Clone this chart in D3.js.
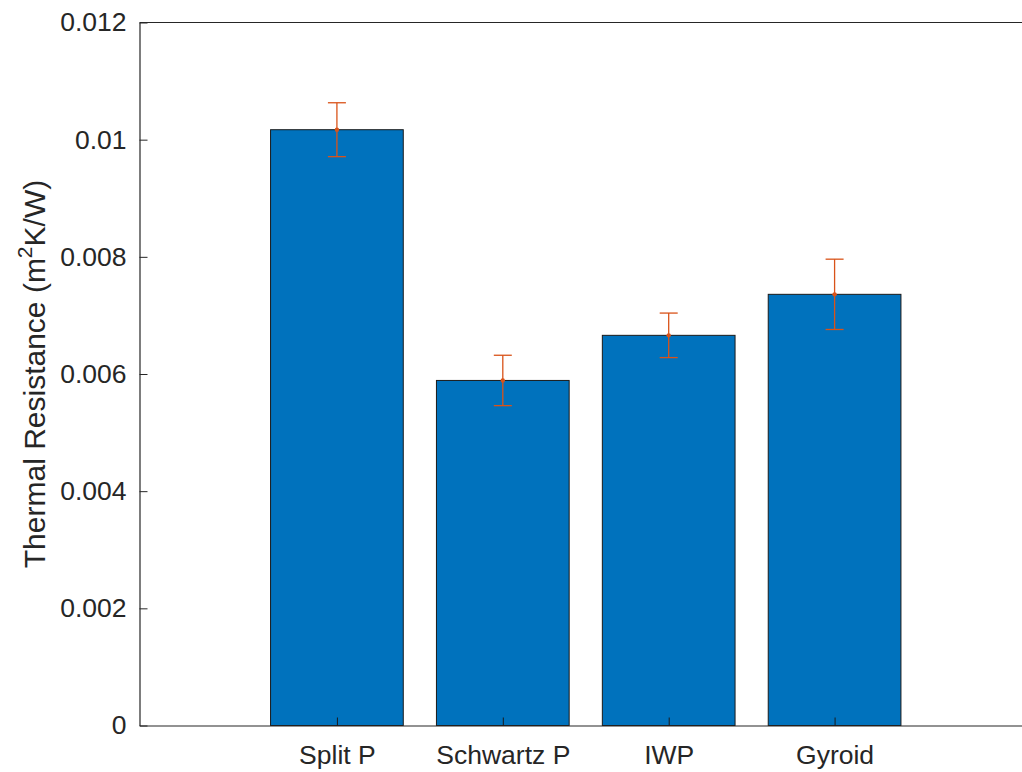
<!DOCTYPE html>
<html>
<head>
<meta charset="utf-8">
<script src="https://cdn.jsdelivr.net/npm/d3@7"></script>
<style>
  html, body { margin: 0; padding: 0; background: #fff; }
  svg { display: block; font-family: "Liberation Sans", Arial, Helvetica, sans-serif; }
</style>
</head>
<body>
<svg id="chart" width="1022" height="772"></svg>
<script>
// Thermal resistance for each lattice structure, with error half-widths
const categories = ["Split P", "Schwartz P", "IWP", "Gyroid"];
const resistance = [0.01017, 0.00589, 0.00666, 0.00736];
const errorBar = [0.00046, 0.00043, 0.00038, 0.00060];
const yTicks = [0, 0.002, 0.004, 0.006, 0.008, 0.01, 0.012];
const yTickLabels = ["0", "0.002", "0.004", "0.006", "0.008", "0.01", "0.012"];

const svg = d3.select("#chart");
const margin = { left: 139.5, top: 22.5, right: 1032, bottom: 725.5 };
const axisColor = "#262626";
const tickFont = 26.5;

// Numeric positions 1..4 with padding on either side
const x = d3.scaleLinear().domain([-0.19, 5.19]).range([margin.left, margin.right]);
const y = d3.scaleLinear().domain([0, 0.012]).range([margin.bottom, margin.top]);
const step = x(2) - x(1);
const barW = step * 0.8;

const data = categories.map((c, i) => ({ c, pos: i + 1, v: resistance[i], e: errorBar[i] }));

// Bars
svg.append("g").selectAll("rect").data(data).join("rect")
  .attr("x", d => x(d.pos) - barW / 2)
  .attr("y", d => y(d.v))
  .attr("width", barW)
  .attr("height", d => y(0) - y(d.v))
  .attr("fill", "#0072BD")
  .attr("stroke", "#1a1a1a")
  .attr("stroke-width", 1);

// Axes
const yAxis = d3.axisLeft(y).tickValues(yTicks)
  .tickFormat((d, i) => yTickLabels[i]).tickSizeInner(-8).tickSizeOuter(0).tickPadding(13);
const gy = svg.append("g").attr("transform", `translate(${margin.left},0)`).call(yAxis);
gy.select(".domain").attr("stroke", axisColor).attr("stroke-width", 1.2);
gy.selectAll(".tick line").attr("stroke", axisColor);
gy.selectAll(".tick text").attr("fill", axisColor).attr("font-size", tickFont)
  .attr("font-family", "'Liberation Sans', Arial, sans-serif");

const xAxis = d3.axisBottom(x).tickValues(data.map(d => d.pos))
  .tickFormat((d, i) => categories[i]).tickSizeInner(-8).tickSizeOuter(0).tickPadding(20);
const gx = svg.append("g").attr("transform", `translate(0,${margin.bottom})`).call(xAxis);
gx.select(".domain").attr("stroke", axisColor).attr("stroke-width", 1.2);
gx.selectAll(".tick line").attr("stroke", "#1a1a1a");
gx.selectAll(".tick text").attr("fill", axisColor).attr("font-size", tickFont)
  .attr("font-family", "'Liberation Sans', Arial, sans-serif");

// Top border line of the axes box
svg.append("line")
  .attr("x1", margin.left).attr("x2", margin.right)
  .attr("y1", margin.top).attr("y2", margin.top)
  .attr("stroke", axisColor).attr("stroke-width", 1.2);

// Error bars
const errColor = "#D95319";
const capW = 9;
const eg = svg.append("g").attr("stroke", errColor).attr("stroke-width", 1.3);
data.forEach(d => {
  const cx = x(d.pos);
  eg.append("line").attr("x1", cx).attr("x2", cx).attr("y1", y(d.v + d.e)).attr("y2", y(d.v - d.e));
  eg.append("line").attr("x1", cx - capW).attr("x2", cx + capW).attr("y1", y(d.v + d.e)).attr("y2", y(d.v + d.e));
  eg.append("line").attr("x1", cx - capW).attr("x2", cx + capW).attr("y1", y(d.v - d.e)).attr("y2", y(d.v - d.e));
});
svg.append("g").selectAll("circle").data(data).join("circle")
  .attr("cx", d => x(d.pos)).attr("cy", d => y(d.v)).attr("r", 2.2)
  .attr("fill", errColor);

// Y-axis title with superscript
const title = svg.append("text")
  .attr("transform", `translate(45,${(margin.top + margin.bottom) / 2}) rotate(-90)`)
  .attr("text-anchor", "middle")
  .attr("fill", axisColor)
  .attr("font-size", 30);
title.append("tspan").text("Thermal Resistance (m");
title.append("tspan").attr("dy", -13).attr("font-size", 21).text("2");
title.append("tspan").attr("dy", 13).text("K/W)");
</script>
</body>
</html>
